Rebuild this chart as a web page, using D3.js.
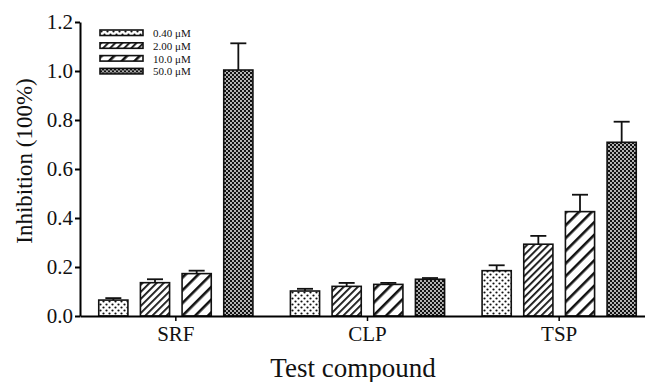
<!DOCTYPE html>
<html>
<head>
<meta charset="utf-8">
<script src="https://cdn.jsdelivr.net/npm/d3@7"></script>
<style>
  body { margin: 0; background: #fff; }
  svg { display: block; font-family: "Liberation Serif", "DejaVu Serif", serif; }
</style>
</head>
<body>
<figure id="bar" style="margin:0"></figure>
<script>
const categories = ["SRF", "CLP", "TSP"]
const series = ["0.40 μM", "2.00 μM", "10.0 μM", "50.0 μM"]
// mean inhibition per category, one array per concentration
const c040 = [0.065, 0.102, 0.185]
const c200 = [0.136, 0.121, 0.293]
const c100 = [0.173, 0.129, 0.426]
const c500 = [1.004, 0.150, 0.709]
// error bar sizes (upper)
const e040 = [0.008, 0.009, 0.022]
const e200 = [0.014, 0.014, 0.034]
const e100 = [0.012, 0.006, 0.069]
const e500 = [0.109, 0.005, 0.084]
const yTicks = [0, 0.2, 0.4, 0.6, 0.8, 1.0, 1.2]

const values = [c040, c200, c100, c500]
const errors = [e040, e200, e100, e500]

const width = 645
const height = 382

const svg = d3.select('figure#bar')
  .append("svg")
  .attr("width", width)
  .attr("height", height)

/* fill patterns, one per concentration */
const defs = svg.append("defs")

const p0 = defs.append("pattern").attr("id", "pat0")
  .attr("patternUnits", "userSpaceOnUse").attr("width", 6).attr("height", 6)
p0.append("rect").attr("width", 6).attr("height", 6).attr("fill", "#fff")
p0.append("circle").attr("cx", 1.5).attr("cy", 1.5).attr("r", 1.1).attr("fill", "#111")
p0.append("circle").attr("cx", 4.5).attr("cy", 4.5).attr("r", 1.1).attr("fill", "#111")

const p1 = defs.append("pattern").attr("id", "pat1")
  .attr("patternUnits", "userSpaceOnUse").attr("width", 5).attr("height", 5)
  .attr("patternTransform", "rotate(45)")
p1.append("rect").attr("width", 5).attr("height", 5).attr("fill", "#fff")
p1.append("rect").attr("width", 1.8).attr("height", 5).attr("fill", "#111")

const p2 = defs.append("pattern").attr("id", "pat2")
  .attr("patternUnits", "userSpaceOnUse").attr("width", 9).attr("height", 9)
  .attr("patternTransform", "rotate(45)")
p2.append("rect").attr("width", 9).attr("height", 9).attr("fill", "#fff")
p2.append("rect").attr("width", 2.6).attr("height", 9).attr("fill", "#111")

const p3 = defs.append("pattern").attr("id", "pat3")
  .attr("patternUnits", "userSpaceOnUse").attr("width", 4).attr("height", 4)
p3.append("rect").attr("width", 4).attr("height", 4).attr("fill", "#111")
p3.append("circle").attr("cx", 1).attr("cy", 1).attr("r", 0.9).attr("fill", "#fff")
p3.append("circle").attr("cx", 3).attr("cy", 3).attr("r", 0.9).attr("fill", "#fff")

const x = d3.scaleBand()
  .domain(categories)
  .range([80, 655])
  .padding(0)

const xs = d3.scaleBand()
  .domain(series)
  .range([0, x.bandwidth()])
  .paddingInner(0.3)
  .paddingOuter(0.45)

const y = d3.scaleLinear()
  .domain([0, 1.2])
  .range([316, 22])

/* bars */
const rows = []
categories.forEach((cat, i) => {
  series.forEach((s, j) => {
    rows.push({ cat: cat, s: s, j: j, v: values[j][i], e: errors[j][i] })
  })
})

const g = svg.append("g")

g.selectAll(".bar")
  .data(rows)
  .enter()
  .append("rect")
  .attr("class", "bar")
  .attr("x", d => x(d.cat) + xs(d.s))
  .attr("y", d => y(d.v))
  .attr("width", xs.bandwidth())
  .attr("height", d => y(0) - y(d.v))
  .attr("fill", d => "url(#pat" + d.j + ")")
  .attr("stroke", "#111")
  .attr("stroke-width", 1.6)

// error bars
g.selectAll(".err")
  .data(rows)
  .enter()
  .append("line")
  .attr("x1", d => x(d.cat) + xs(d.s) + xs.bandwidth() / 2)
  .attr("x2", d => x(d.cat) + xs(d.s) + xs.bandwidth() / 2)
  .attr("y1", d => y(d.v))
  .attr("y2", d => y(d.v + d.e))
  .attr("stroke", "#111")
  .attr("stroke-width", 1.8)

g.selectAll(".cap")
  .data(rows)
  .enter()
  .append("line")
  .attr("x1", d => x(d.cat) + xs(d.s) + xs.bandwidth() / 2 - 8)
  .attr("x2", d => x(d.cat) + xs(d.s) + xs.bandwidth() / 2 + 8)
  .attr("y1", d => y(d.v + d.e))
  .attr("y2", d => y(d.v + d.e))
  .attr("stroke", "#111")
  .attr("stroke-width", 1.8)

/* axes */
const yAxis = svg.append("g")
  .attr("transform", "translate(80,0)")
  .call(d3.axisLeft(y).tickValues(yTicks).tickFormat(d3.format(".1f")).tickSize(5).tickSizeOuter(0))
yAxis.select(".domain").attr("stroke-width", 2)
yAxis.selectAll(".tick line").attr("stroke-width", 2)
yAxis.selectAll("text")
  .attr("font-family", "Liberation Serif")
  .attr("font-size", 21)
  .attr("fill", "#111")
  .attr("x", -7)

const xAxis = svg.append("g")
  .attr("transform", "translate(0,316)")
  .call(d3.axisBottom(x).tickSize(5).tickSizeOuter(0))
xAxis.select(".domain").attr("stroke-width", 2)
xAxis.selectAll(".tick line").attr("stroke-width", 1.5)
xAxis.selectAll("text")
  .attr("font-family", "Liberation Serif")
  .attr("font-size", 21)
  .attr("fill", "#111")
  .attr("y", 10)

svg.append("text")
  .attr("x", 353)
  .attr("y", 377)
  .attr("text-anchor", "middle")
  .attr("font-size", 27)
  .attr("fill", "#111")
  .text("Test compound")

svg.append("text")
  .attr("transform", "translate(32,161) rotate(-90)")
  .attr("text-anchor", "middle")
  .attr("font-size", 23)
  .attr("fill", "#111")
  .text("Inhibition (100%)")

/* legend */
const legend = svg.append("g")
  .attr("transform", "translate(100,30)")

const item = legend.selectAll(".item")
  .data(series)
  .enter()
  .append("g")
  .attr("transform", (d, i) => "translate(0," + i * 12.8 + ")")

item.append("rect")
  .attr("width", 43)
  .attr("height", 5.5)
  .attr("fill", (d, i) => "url(#pat" + i + ")")
  .attr("stroke", "#111")
  .attr("stroke-width", 1.6)

item.append("text")
  .attr("x", 53)
  .attr("y", 7)
  .attr("font-size", 11)
  .attr("fill", "#111")
  .text(d => d)
</script>
</body>
</html>
